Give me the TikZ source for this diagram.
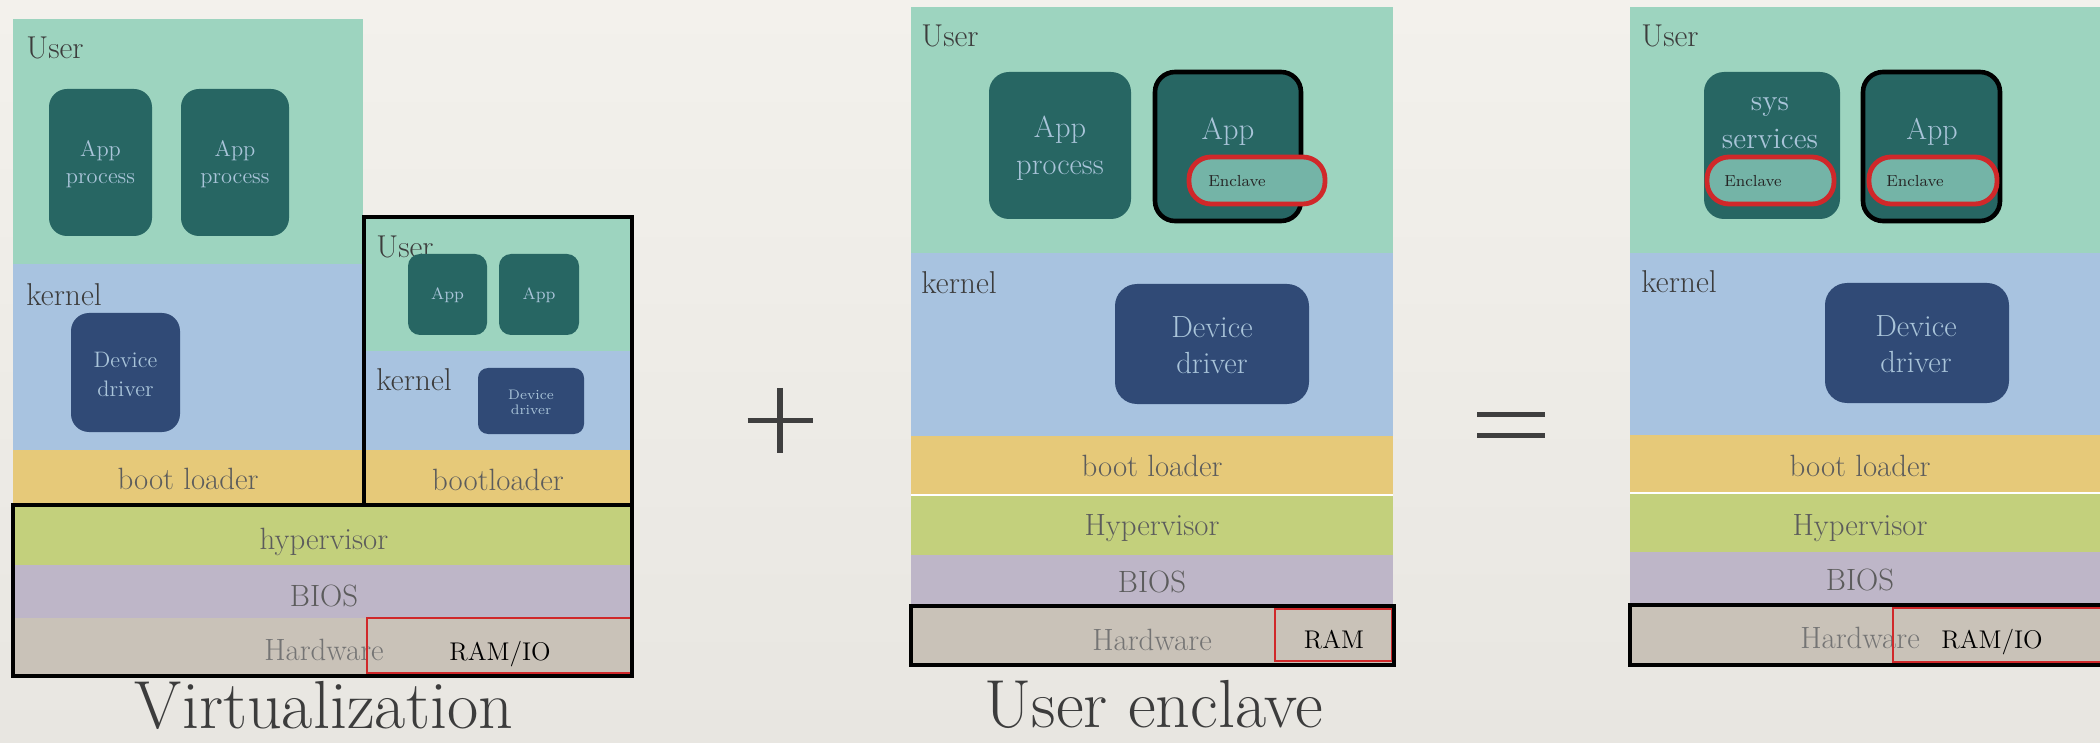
\documentclass[tikz,border=0pt]{standalone}
\usepackage{fontspec}
\usepackage{tikz}

\definecolor{paper}{HTML}{F3F1EC}
\definecolor{paperdark}{HTML}{E8E6E1}
\definecolor{usergreen}{HTML}{9DD4BF}
\definecolor{kernblue}{HTML}{A8C3E0}
\definecolor{bootyellow}{HTML}{E6C979}
\definecolor{hypgreen}{HTML}{C3D07C}
\definecolor{bioslilac}{HTML}{BEB6C8}
\definecolor{hwgray}{HTML}{C9C2B8}
\definecolor{appteal}{HTML}{276663}
\definecolor{drvnavy}{HTML}{304A76}
\definecolor{encteal}{HTML}{74B4A7}
\definecolor{encred}{HTML}{D0282A}
\definecolor{boxtext}{HTML}{A9C4D9}
\definecolor{darktext}{HTML}{3C3C3C}
\definecolor{midtext}{HTML}{5C5C5C}
\definecolor{hwtext}{HTML}{747474}
\definecolor{signgray}{HTML}{3F3F3F}

\begin{document}
\begin{tikzpicture}[x=0.5pt, y=-0.5pt,
  lbl/.style={anchor=base west, inner xsep=0pt, text=darktext, font=\fontsize{15.8}{18}\selectfont},
  mid/.style={anchor=base, text=midtext, font=\fontsize{15.4}{18}\selectfont},
  boxtxt/.style={text=boxtext, align=center},
  frame/.style={draw=black, line width=2.3pt},
  ramframe/.style={draw=encred, line width=1pt},
  ram/.style={anchor=base, text=black, font=\fontsize{12.8}{15}\selectfont},
  enclave/.style={fill=encteal, draw=encred, line width=2.4pt, rounded corners=11pt},
  enctxt/.style={anchor=west, inner xsep=0pt, text=black!85, font=\fontsize{8}{10}\selectfont},
  caption/.style={anchor=base, inner sep=0pt, text=darktext, font=\fontsize{34}{40}\selectfont},
  sign/.style={draw=signgray, line width=2.6pt}]
        \useasboundingbox (0,0) rectangle (2100,743);
        \shade[top color=paper, bottom color=paperdark] (0,0) rectangle (2100,743);
        \clip (0,0) rectangle (2100,743);

        % virtualization
        \fill[usergreen] (13,19) rectangle (363,264);
        \fill[kernblue] (13,264) rectangle (363,450);
        \fill[bootyellow] (13,450) rectangle (363,505);
        \node[lbl] (vUser) at (26,59) {User};
        \node[lbl] (vKernel) at (26,306) {kernel};
        \node[mid] (vBoot) at (188,489) {boot loader};
        \fill[appteal, rounded corners=9pt] (49,89) rectangle (152,236);
        \fill[appteal, rounded corners=9pt] (181,89) rectangle (289,236);
        \node[boxtxt, font=\fontsize{11.2}{13.5}\selectfont] (vApp1) at (100.5,164) {App\\process};
        \node[boxtxt, font=\fontsize{11.2}{13.5}\selectfont] (vApp2) at (235,164) {App\\process};
        \fill[drvnavy, rounded corners=9pt] (71,313) rectangle (180,432);
        \node[boxtxt, font=\fontsize{11.2}{14.5}\selectfont] (vDrv) at (125.5,374) {Device\\driver};

        \fill[usergreen] (364,217) rectangle (632,351);
        \fill[kernblue] (364,351) rectangle (632,450);
        \fill[bootyellow] (364,450) rectangle (632,505);
        \node[lbl] (gUser) at (376,258) {User};
        \fill[appteal, rounded corners=6pt] (408,254) rectangle (487,335);
        \fill[appteal, rounded corners=6pt] (499,254) rectangle (579,335);
        \node[boxtxt, font=\fontsize{8.3}{10}\selectfont] (gApp1) at (447.5,295) {App};
        \node[boxtxt, font=\fontsize{8.3}{10}\selectfont] (gApp2) at (539,295) {App};
        \node[lbl] (gKernel) at (376,391) {kernel};
        \fill[drvnavy, rounded corners=5pt] (478,368) rectangle (584,434);
        \node[boxtxt, font=\fontsize{6.9}{7.6}\selectfont] (gDrv) at (531,402) {Device\\driver};
        \node[mid] (gBoot) at (498,490) {bootloader};
        \draw[frame] (364,217) rectangle (632,505);

        \fill[hypgreen] (13,505) rectangle (632,565);
        \fill[bioslilac] (13,565) rectangle (632,618);
        \fill[hwgray] (13,618) rectangle (632,675);
        \node[mid] (vHyp) at (324,549) {hypervisor};
        \node[mid] (vBios) at (324,606) {BIOS};
        \node[mid, text=hwtext] (vHw) at (324,660) {Hardware};
        \draw[ramframe] (367,618) rectangle (632,673);
        \node[ram] (vRam) at (500,660) {RAM/IO};
        \draw[frame] (13,505) rectangle (632,676);
        \node[caption] (vCap) at (324,728) {Virtualization};

        \draw[sign] (747.5,420.5) -- (812.5,420.5);
        \draw[sign] (780,388) -- (780,453);

        % user enclave
        \fill[usergreen] (911,7) rectangle (1393,253);
        \fill[kernblue] (911,253) rectangle (1393,436);
        \fill[bootyellow] (911,436) rectangle (1393,495);
        \fill[hypgreen] (911,495) rectangle (1393,555);
        \fill[bioslilac] (911,555) rectangle (1393,607);
        \fill[hwgray] (911,607) rectangle (1393,665);
        \draw[white, line width=0.6pt] (911,495) -- (1393,495);
        \node[lbl] (eUser) at (921,47) {User};
        \fill[appteal, rounded corners=10pt] (989,72) rectangle (1131,219);
        \node[boxtxt, font=\fontsize{15.2}{18.5}\selectfont] (eApp1) at (1060,148) {App\\process};
        \draw[appteal, fill=appteal, rounded corners=10pt] (1155,72) rectangle (1301,221);
        \draw[frame, rounded corners=10pt] (1155,72) rectangle (1301,221);
        \node[boxtxt, anchor=base, font=\fontsize{15.4}{18}\selectfont] (eApp2) at (1228,140) {App};
        \draw[enclave] (1189,157) rectangle (1325,204);
        \node[enctxt] (eEnc) at (1208,181) {Enclave};
        \node[lbl] (eKernel) at (921,294) {kernel};
        \fill[drvnavy, rounded corners=11pt] (1115,284) rectangle (1309,404);
        \node[boxtxt, font=\fontsize{15.3}{18.3}\selectfont] (eDrv) at (1212,345) {Device\\driver};
        \node[mid] (eBoot) at (1152,476) {boot loader};
        \node[mid] (eHyp) at (1152,535) {Hypervisor};
        \node[mid] (eBios) at (1152,592) {BIOS};
        \node[mid, text=hwtext] (eHw) at (1152,650) {Hardware};
        \draw[ramframe] (1275,609) rectangle (1392,661);
        \node[ram] (eRam) at (1334,648) {RAM};
        \draw[frame] (911,606) rectangle (1394,665);
        \node[caption] (eCap) at (1154,727) {User enclave};

        \draw[sign] (1477,414.5) -- (1545,414.5);
        \draw[sign] (1477,435.5) -- (1545,435.5);

        % both
        \fill[usergreen] (1630,7) rectangle (2112,253);
        \fill[kernblue] (1630,253) rectangle (2112,435);
        \fill[bootyellow] (1630,435) rectangle (2112,493);
        \fill[hypgreen] (1630,493) rectangle (2112,552);
        \fill[bioslilac] (1630,552) rectangle (2112,604);
        \fill[hwgray] (1630,604) rectangle (2112,665);
        \draw[white, line width=0.6pt] (1630,493) -- (2112,493);
        \node[lbl] (bUser) at (1641,47) {User};
        \fill[appteal, rounded corners=10pt] (1704,72) rectangle (1840,219);
        \node[boxtxt, font=\fontsize{14.8}{19}\selectfont] (bSys) at (1770,123) {sys\\services};
        \draw[enclave] (1707,157) rectangle (1834,204);
        \node[enctxt] (bEnc1) at (1724,181) {Enclave};
        \fill[appteal, rounded corners=10pt] (1863,72) rectangle (2000,221);
        \draw[frame, rounded corners=10pt] (1863,72) rectangle (2000,221);
        \node[boxtxt, anchor=base, font=\fontsize{15}{18}\selectfont] (bApp) at (1932,140) {App};
        \draw[enclave] (1869,157) rectangle (1997,204);
        \node[enctxt] (bEnc2) at (1886,181) {Enclave};
        \node[lbl] (bKernel) at (1641,293) {kernel};
        \fill[drvnavy, rounded corners=11pt] (1825,283) rectangle (2009,403);
        \node[boxtxt, font=\fontsize{15.3}{18.3}\selectfont] (bDrv) at (1916,344) {Device\\driver};
        \node[mid] (bBoot) at (1860,476) {boot loader};
        \node[mid] (bHyp) at (1860,535) {Hypervisor};
        \node[mid] (bBios) at (1860,590) {BIOS};
        \node[mid, text=hwtext] (bHw) at (1860,648) {Hardware};
        \draw[ramframe] (1893,608) rectangle (2140,662);
        \node[ram] (bRam) at (1992,648) {RAM/IO};
        \draw[frame] (1630,605) rectangle (2140,665);
\end{tikzpicture}
\end{document}
